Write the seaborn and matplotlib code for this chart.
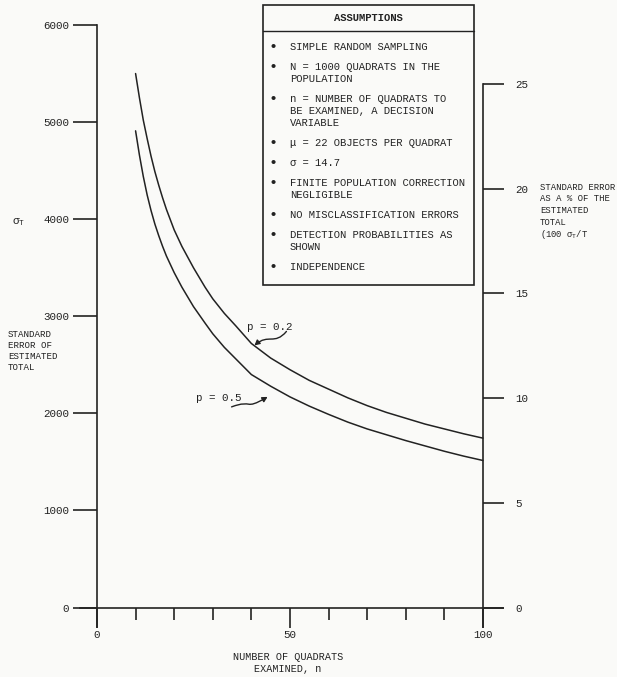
import numpy as np
import pandas as pd
import matplotlib
matplotlib.use("Agg")
import matplotlib.pyplot as plt
import matplotlib.transforms as mtransforms
from matplotlib.patches import Rectangle, FancyArrowPatch
from matplotlib.path import Path
import seaborn as sns

# ---------------- data ----------------
n_values = [10, 11, 12, 13, 14, 15, 16, 17, 18, 20, 22, 25, 28, 30, 33, 36, 40,
            45, 50, 55, 60, 65, 70, 75, 80, 85, 90, 95, 100]
se_p02 = [5500, 5250, 5020, 4830, 4650, 4490, 4350, 4220, 4100, 3890, 3720, 3500, 3300,
          3180, 3030, 2900, 2720, 2570, 2450, 2340, 2250, 2160, 2080, 2010, 1950, 1890,
          1840, 1790, 1745]
se_p05 = [4910, 4660, 4440, 4250, 4090, 3950, 3830, 3720, 3620, 3450, 3300, 3100, 2930,
          2820, 2680, 2560, 2400, 2280, 2170, 2075, 1990, 1910, 1840, 1780, 1720, 1665,
          1610, 1560, 1515]
series_labels = ["p = 0.2", "p = 0.5"]

left_ticks = [0, 1000, 2000, 3000, 4000, 5000, 6000]
right_ticks = [0, 5, 10, 15, 20, 25]
x_major_ticks = [0, 50, 100]
x_minor_ticks = [10, 20, 30, 40, 60, 70, 80, 90]

assumptions_title = "ASSUMPTIONS"
assumptions = [
    "SIMPLE RANDOM SAMPLING",
    "N = 1000 QUADRATS IN THE\nPOPULATION",
    "n = NUMBER OF QUADRATS TO\nBE EXAMINED, A DECISION\nVARIABLE",
    "\u03bc = 22 OBJECTS PER QUADRAT",
    "\u03c3 = 14.7",
    "FINITE POPULATION CORRECTION\nNEGLIGIBLE",
    "NO MISCLASSIFICATION ERRORS",
    "DETECTION PROBABILITIES AS\nSHOWN",
    "INDEPENDENCE",
]
left_label = "STANDARD\nERROR OF\nESTIMATED\nTOTAL"
right_label_lines = ["STANDARD ERROR", "AS A % OF THE", "ESTIMATED", "TOTAL", r"(100 $\sigma_{\mathrm{T}}$/T"]
x_label = "NUMBER OF QUADRATS\nEXAMINED, n"

# ---------------- style ----------------
sns.set_style("white")
FONT = ["Liberation Mono", "DejaVu Sans Mono"]
plt.rcParams["font.family"] = FONT
plt.rcParams["mathtext.fontset"] = "custom"
plt.rcParams["mathtext.rm"] = "Liberation Mono"
plt.rcParams["mathtext.it"] = "Liberation Mono"
plt.rcParams["mathtext.bf"] = "Liberation Mono:bold"

ink = "#222222"
bg = "#fafaf8"
W, H = 617, 677


def fx(px):
    return px / W


def fy(py):
    return 1 - py / H


fig = plt.figure(figsize=(W / 100, H / 100), dpi=100, facecolor=bg)
ax = fig.add_axes([fx(80), fy(627), fx(503) - fx(80), fy(25) - fy(627)])
ax.set_facecolor("none")

df = pd.DataFrame({
    "n": n_values * 2,
    "se": se_p02 + se_p05,
    "p": [series_labels[0]] * len(n_values) + [series_labels[1]] * len(n_values),
})
sns.lineplot(data=df, x="n", y="se", hue="p", palette=[ink, ink], estimator=None,
             legend=False, ax=ax, linewidth=1.1)

ax.set_xlim(-4.4, 105.2)
ax.set_ylim(-200, 6000)
ax.set_xlabel("")
ax.set_ylabel("")
for s in ["top", "right"]:
    ax.spines[s].set_visible(False)
ax.spines["left"].set_position(("data", 0))
ax.spines["bottom"].set_position(("data", 0))
for s in ["left", "bottom"]:
    ax.spines[s].set_color(ink)
    ax.spines[s].set_linewidth(1.2)

ax.set_yticks(left_ticks)
ax.set_yticklabels([str(t) for t in left_ticks])
ax.set_xticks(x_major_ticks)
ax.set_xticklabels([str(t) for t in x_major_ticks])
ax.set_xticks(x_minor_ticks, minor=True)
ax.tick_params(axis="y", which="major", direction="out", length=17, width=1.2,
               pad=3, labelsize=7.8, color=ink, labelcolor=ink, left=True)
ax.tick_params(axis="x", which="major", direction="out", length=14.4, width=1.2,
               pad=1.5, labelsize=7.8, color=ink, labelcolor=ink, bottom=True)
ax.tick_params(axis="x", which="minor", direction="out", length=8.5, width=1.2,
               color=ink, bottom=True)

# right axis (percentage scale)
ax2 = ax.twinx()
ax2.set_facecolor("none")
ax2.set_ylim(-0.92, 27.81)
for s in ["top", "left", "bottom"]:
    ax2.spines[s].set_visible(False)
ax2.spines["right"].set_position(("data", 100))
ax2.spines["right"].set_bounds(-0.92, 25)
ax2.spines["right"].set_color(ink)
ax2.spines["right"].set_linewidth(1.2)
ax2.set_yticks(right_ticks)
ax2.set_yticklabels([str(t) for t in right_ticks])
ax2.tick_params(axis="y", direction="out", length=15, width=1.2, pad=8,
                labelsize=7.8, color=ink, labelcolor=ink, right=True)
ax2.grid(False)
ax.grid(False)

# ---------------- axis texts ----------------
fig.text(fx(12), fy(222), r"$\sigma_{\mathrm{T}}$", fontsize=8, color=ink, va="center", ha="left")
fig.text(fx(8), fy(330), left_label, fontsize=6.6, color=ink, va="top", ha="left",
         linespacing=1.3)
for i, line in enumerate(right_label_lines):
    fig.text(fx(540), fy(187 + 11.8 * i), line, fontsize=6.4, color=ink, va="center", ha="left")
fig.text(fx(288), fy(663), x_label, fontsize=7.3, color=ink, va="center", ha="center",
         linespacing=1.2)

# ---------------- curve labels with squiggly arrows ----------------
ax.text(44.7, 2890, series_labels[0], fontsize=7.8, color=ink, ha="center", va="center")
ax.text(31.5, 2160, series_labels[1], fontsize=7.8, color=ink, ha="center", va="center")


def squiggle(tip, verts):
    trans = mtransforms.ScaledTranslation(tip[0], tip[1], ax.transData)
    path = Path(verts, [Path.MOVETO, Path.CURVE4, Path.CURVE4, Path.CURVE4])
    arr = FancyArrowPatch(path=path, arrowstyle="-|>,head_length=3,head_width=1.6",
                          color=ink, lw=1.0, transform=trans, shrinkA=0, shrinkB=0)
    fig.add_artist(arr)


squiggle((40.8, 2700), [(32, 14), (20, 0), (14, 12), (0, 0)])
squiggle((44.2, 2170), [(-36, -10), (-14, -2), (-24, -14), (0, 0)])

# ---------------- assumptions box ----------------
box_l, box_r, box_t, box_b = 263, 474, 5, 285
fig.add_artist(Rectangle((fx(box_l), fy(box_b)), fx(box_r) - fx(box_l), fy(box_t) - fy(box_b),
                         transform=fig.transFigure, facecolor=bg, edgecolor=ink, lw=1.2))
fig.add_artist(plt.Line2D([fx(box_l), fx(box_r)], [fy(31), fy(31)], transform=fig.transFigure,
                          color=ink, lw=1.0))
fig.text(fx((box_l + box_r) / 2), fy(18), assumptions_title, fontsize=7.6, color=ink,
         fontweight="bold", ha="center", va="center")
y = 47
for item in assumptions:
    lines = item.split("\n")
    fig.text(fx(273), fy(y), "\u2022", fontsize=11, color=ink, ha="center", va="center")
    for j, line in enumerate(lines):
        fig.text(fx(290), fy(y + 12 * j), line, fontsize=7.6, color=ink, ha="left", va="center")
    y += 12 * (len(lines) - 1) + 20

fig.savefig("out.png", dpi=100, facecolor=bg)
